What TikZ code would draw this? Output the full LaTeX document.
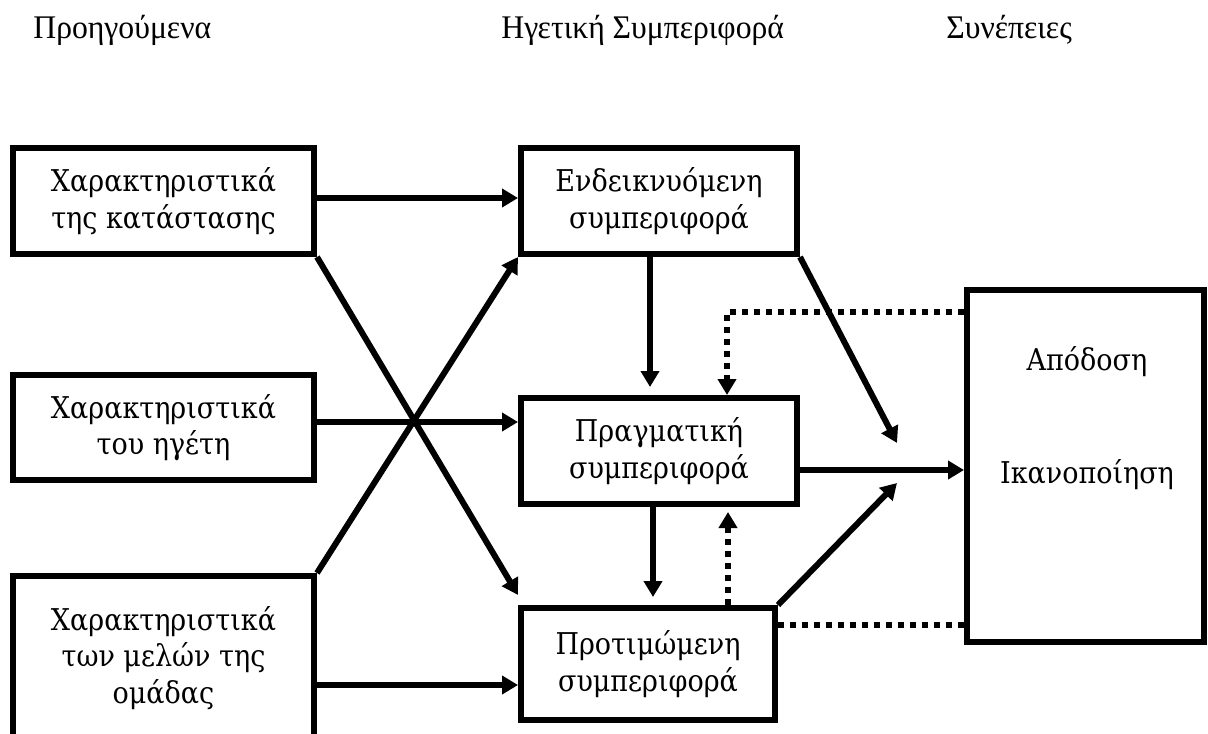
\documentclass[tikz,border=0pt]{standalone}
\usepackage{fontspec}
\setmainfont{Liberation Serif}
\newfontfamily\headfont[FakeStretch=0.96]{Liberation Serif}
\newfontfamily\boxfont[FakeStretch=0.9]{DejaVu Serif}
\usetikzlibrary{arrows.meta,calc}
\begin{document}
\begin{tikzpicture}[x=0.5pt,y=-0.5pt,
  box/.style={draw,line width=3pt,align=center,font=\boxfont\fontsize{15}{18.2}\selectfont,inner sep=0pt},
  gtext/.style={font=\boxfont\fontsize{15}{18.2}\selectfont,anchor=base,inner sep=0pt},
  tip/.style={-{Triangle[length=8pt,width=9pt]}},
  arr/.style={line width=3pt,tip},
  dotl/.style={line width=3pt,dash pattern=on 3pt off 3pt},
  head/.style={font=\headfont\fontsize{16.5}{20}\selectfont,anchor=base west,inner sep=0pt}]
\fill[white] (0,0) rectangle (1208,733);
\useasboundingbox (0,0) rectangle (1208,733);
% headers
\node[head] (h1) at (33,39) {Προηγούμενα};
\node[head] (h2) at (501,39) {Ηγετική Συμπεριφορά};
\node[head] (h3) at (946,39) {Συνέπειες};
% boxes
\node[box,minimum width=150.5pt,minimum height=53pt] (A) at (163.5,201) {Χαρακτηριστικά\\της κατάστασης};
\node[box,minimum width=150.5pt,minimum height=52.5pt] (B) at (163.5,427.5) {Χαρακτηριστικά\\του ηγέτη};
\node[box,minimum width=150.5pt,minimum height=82pt] (C) at (163.5,658) {Χαρακτηριστικά\\των μελών της\\ομάδας};
\node[box,minimum width=138pt,minimum height=53pt] (D) at (659,201) {Ενδεικνυόμενη\\συμπεριφορά};
\node[box,minimum width=138pt,minimum height=53pt] (E) at (659,451) {Πραγματική\\συμπεριφορά};
\node[box,minimum width=127pt,minimum height=56pt] (F) at (648,664) {Προτιμώμενη\\συμπεριφορά};
\node[box,minimum width=118.5pt,minimum height=176pt] (G) at (1085.5,466) {};
\node[gtext] (G1) at (1087,370) {Απόδοση};
\node[gtext] (G2) at (1087,483) {Ικανοποίηση};
% free ends
\coordinate (m1) at (897,443);
\coordinate (m2) at (897,483);
% connectors
\draw[arr] ([yshift=1.5pt]A.east) -- ([yshift=1.5pt]D.west);
\draw[arr] (B.east |- 0,422) -- (E.west |- 0,422);
\draw[arr] (C.east |- 0,685) -- (F.west |- 0,685);
\draw[arr] (A.south east) -- ([yshift=5pt]F.north west);
\draw[arr] (C.north east) -- (D.south west);
\draw[arr] (D.south -| 650,0) -- ([yshift=4pt]E.north -| 650,0);
\draw[arr] (E.south -| 653,0) -- ([yshift=4pt]F.north -| 653,0);
\draw[arr] (D.south east) -- (m1);
\draw[arr] (F.north east) -- (m2);
\draw[arr] (E.east |- 0,470) -- (G.west |- 0,470);
\draw[dotl,tip] (G.west |- 0,312) -| (E.north -| 727,0);
\draw[dotl,tip] (F.north -| 728,0) -- ([yshift=-2.5pt]E.south -| 728,0);
\draw[dotl] (F.east |- 0,625) -- (G.west |- 0,625);
\end{tikzpicture}
\end{document}
